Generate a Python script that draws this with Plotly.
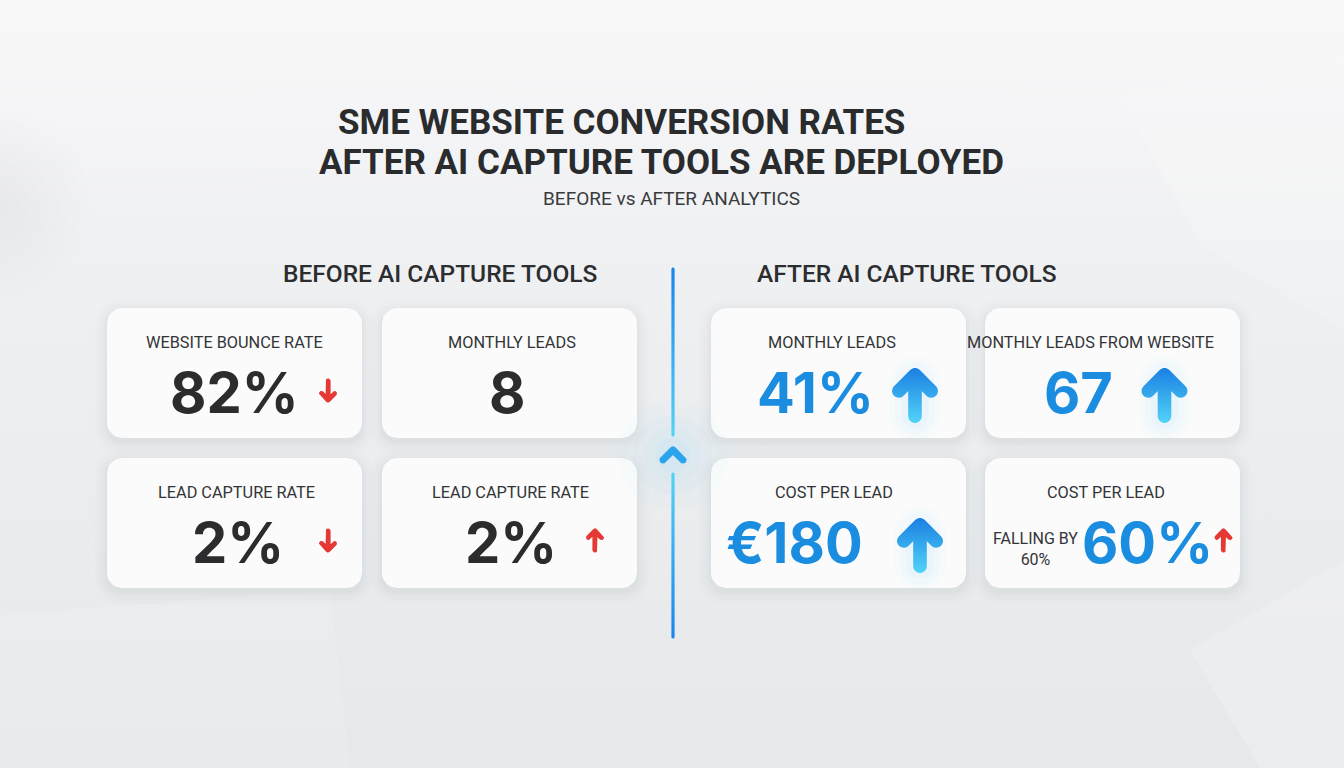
import numpy as np
import plotly.graph_objects as go

W, H = 1344, 768

# ---------------- data ----------------
title_lines = ["SME WEBSITE CONVERSION RATES", "AFTER AI CAPTURE TOOLS ARE DEPLOYED"]
subtitle = "BEFORE vs AFTER ANALYTICS"
section_titles = ["BEFORE AI CAPTURE TOOLS", "AFTER AI CAPTURE TOOLS"]

before_labels = ["WEBSITE BOUNCE RATE", "MONTHLY LEADS", "LEAD CAPTURE RATE", "LEAD CAPTURE RATE"]
before_values = ["82%", "8", "2%", "2%"]
before_trends = ["down", "", "down", "up"]

after_labels = ["MONTHLY LEADS", "MONTHLY LEADS FROM WEBSITE", "COST PER LEAD", "COST PER LEAD"]
after_values = ["41%", "67", "€180", "60%"]
after_trends = ["up", "up", "up", "up"]
after_notes = ["", "", "", "FALLING BY<br>60%"]

# ---------------- layout (positions / styles) ----------------
card_w, card_h = 255, 130
col_x = {"before": [107, 382], "after": [711, 985]}
row_y = [308, 458]
before_label_dx = [0, 2.5, 1.5, 0.5]
before_value_dx = [-0.5, -2.5, 3.5, 1.5]
before_arrow_dx = [93.5, 0, 93.5, 85.5]
after_label_dx = [-6.5, -22, -4.5, -7]
after_value_dx = [-23.5, -34, -44.5, 35]
after_arrow_dx = [76.5, 52, 81.5, 111]
after_arrow_kind = ["big", "big", "big", "small"]
after_note_dx = [0, 0, 0, -77]

DARK = "#2b2c2e"
BLUE = "#1b8de0"
RED = "#e53935"
LABEL_FONT = "Roboto"
VALUE_FONT = "Inter"

fig = go.Figure()


def add_poly(pts_list, color=None, grad=None):
    xs, ys = [], []
    for pts in pts_list:
        xs += [p[0] for p in pts] + [None]
        ys += [p[1] for p in pts] + [None]
    kw = dict(x=xs, y=ys, mode="lines", fill="toself", line=dict(width=0),
              hoverinfo="skip", showlegend=False)
    if grad is not None:
        kw["fillgradient"] = grad
    else:
        kw["fillcolor"] = color
    fig.add_trace(go.Scatter(**kw))


def rrect(x0, y0, x1, y1, r, n=8):
    pts = []
    corners = [(x1 - r, y0 + r, -np.pi / 2, 0), (x1 - r, y1 - r, 0, np.pi / 2),
               (x0 + r, y1 - r, np.pi / 2, np.pi), (x0 + r, y0 + r, np.pi, 1.5 * np.pi)]
    for cx, cy, a0, a1 in corners:
        for t in np.linspace(a0, a1, n):
            pts.append((cx + r * np.cos(t), cy + r * np.sin(t)))
    pts.append(pts[0])
    return pts


def stadium(x1, y1, x2, y2, r, n=10):
    ang = np.arctan2(y2 - y1, x2 - x1)
    pts = []
    for t in np.linspace(ang - np.pi / 2, ang + np.pi / 2, n):
        pts.append((x2 + r * np.cos(t), y2 + r * np.sin(t)))
    for t in np.linspace(ang + np.pi / 2, ang + 3 * np.pi / 2, n):
        pts.append((x1 + r * np.cos(t), y1 + r * np.sin(t)))
    pts.append(pts[0])
    return pts


def circle(cx, cy, r, n=48):
    return [(cx + r * np.cos(t), cy + r * np.sin(t)) for t in np.linspace(0, 2 * np.pi, n)]


def arrow_parts(cx, y_top, y_bot, half_w, r, direction):
    if direction == "up":
        tip = (cx, y_top + r)
        tail = (cx, y_bot - r)
        arm_y = tip[1] + (half_w - r)
    else:
        tip = (cx, y_bot - r)
        tail = (cx, y_top + r)
        arm_y = tip[1] - (half_w - r)
    parts = [stadium(tail[0], tail[1], tip[0], tip[1], r)]
    parts.append(stadium(cx - (half_w - r), arm_y, tip[0], tip[1], r))
    parts.append(stadium(cx + (half_w - r), arm_y, tip[0], tip[1], r))
    return parts


# ---------------- background ----------------
add_poly([[(0, 0), (W, 0), (W, H), (0, H), (0, 0)]],
         grad=dict(type="vertical", start=0, stop=H,
                   colorscale=[[0, "#f8f8f9"], [0.35, "#eff0f2"], [1, "#e6e8ea"]]))
add_poly([[(1120, 95), (1344, 55), (1344, 330), (1200, 245), (1120, 95)]], color="rgba(255,255,255,0.16)")
add_poly([[(0, 615), (330, 590), (350, 768), (0, 768), (0, 615)]], color="rgba(255,255,255,0.12)")
add_poly([[(1190, 650), (1344, 560), (1344, 768), (1260, 768), (1190, 650)]], color="rgba(255,255,255,0.18)")
for r in range(95, 10, -10):
    add_poly([circle(-5, 205, r)], color="rgba(175,180,188,0.012)")

# ---------------- cards ----------------
groups = [("before", before_labels), ("after", after_labels)]
card_boxes = {}
for side, labels in groups:
    for i in range(len(labels)):
        x0 = col_x[side][i % 2]
        y0 = row_y[i // 2]
        card_boxes[(side, i)] = (x0, y0)
        for g, a in [(12, 0.018), (8, 0.022), (4, 0.028), (1.5, 0.035)]:
            add_poly([rrect(x0 - g, y0 - g + 3, x0 + card_w + g, y0 + card_h + g + 4, 15 + g)],
                     color=f"rgba(120,130,145,{a})")
        add_poly([rrect(x0, y0, x0 + card_w, y0 + card_h, 15)], color="#fbfbfb")

# ---------------- divider ----------------
dx = 673
for r, a in [(55, 0.03), (40, 0.04), (28, 0.05), (17, 0.07)]:
    add_poly([circle(dx, 455, r)], color=f"rgba(120,215,250,{a})")
add_poly([stadium(dx, 269, dx, 435, 1.6)],
         grad=dict(type="vertical", start=269, stop=435, colorscale=[[0, "#1a84ee"], [1, "#52d4f6"]]))
add_poly([stadium(dx, 474, dx, 637, 1.6)],
         grad=dict(type="vertical", start=474, stop=637, colorscale=[[0, "#52d4f6"], [1, "#1a84ee"]]))
add_poly([stadium(dx - 10, 460, dx, 450, 3.6), stadium(dx + 10, 460, dx, 450, 3.6)], color="#2ba4ee")

# ---------------- arrows ----------------
def big_arrow(cx, y0):
    top, bot = y0 + 60, y0 + 115
    for r, a in [(26, 0.025), (20, 0.035), (14, 0.045)]:
        add_poly([stadium(cx, top + 14, cx, bot - 8, r)], color=f"rgba(90,195,245,{a})")
    add_poly(arrow_parts(cx, top, bot, 23, 6.8, "up"),
             grad=dict(type="vertical", start=top, stop=bot, colorscale=[[0, "#1a80e2"], [1, "#52d3f8"]]))


def small_arrow(cx, y0, direction):
    top, bot = y0 + 70.5, y0 + 94.5
    add_poly(arrow_parts(cx, top, bot, 9, 2.6, direction), color=RED)


for i, t in enumerate(before_trends):
    x0, y0 = card_boxes[("before", i)]
    if t:
        small_arrow(x0 + card_w / 2 + before_arrow_dx[i], y0, t)

for i, t in enumerate(after_trends):
    x0, y0 = card_boxes[("after", i)]
    if after_arrow_kind[i] == "big":
        big_arrow(x0 + card_w / 2 + after_arrow_dx[i], y0)
    else:
        small_arrow(x0 + card_w / 2 + after_arrow_dx[i], y0, t)

# ---------------- text ----------------
ann = []


def text(x, y, s, size, color=DARK, family=LABEL_FONT, weight=400, xanchor="center"):
    ann.append(dict(x=x, y=y, text=s, showarrow=False, xref="x", yref="y",
                    xanchor=xanchor, yanchor="middle",
                    font=dict(family=family, size=size, color=color, weight=weight)))


text(621, 122, title_lines[0], 35, color="#2a2b2d", weight=700)
text(661, 162, title_lines[1], 35, color="#2a2b2d", weight=700)
text(671, 198, subtitle, 19, color="#3a3b3d")
text(440, 273, section_titles[0], 24.5, color="#2c2d2f", weight=500)
text(907, 273, section_titles[1], 24.5, color="#2c2d2f", weight=500)

for i, lab in enumerate(before_labels):
    x0, y0 = card_boxes[("before", i)]
    cx = x0 + card_w / 2
    text(cx + before_label_dx[i], y0 + 34, lab, 16.3, color="#333437")
    text(cx + before_value_dx[i], y0 + 85, before_values[i], 56, color=DARK, family=VALUE_FONT, weight=700)

for i, lab in enumerate(after_labels):
    x0, y0 = card_boxes[("after", i)]
    cx = x0 + card_w / 2
    text(cx + after_label_dx[i], y0 + 34, lab, 16.3, color="#333437")
    text(cx + after_value_dx[i], y0 + 85, after_values[i], 56, color=BLUE, family=VALUE_FONT, weight=700)
    if after_notes[i]:
        text(cx + after_note_dx[i], y0 + 91, after_notes[i], 16, color="#333437")

fig.update_layout(
    width=W, height=H, margin=dict(l=0, r=0, t=0, b=0),
    paper_bgcolor="#eceef0", plot_bgcolor="rgba(0,0,0,0)",
    xaxis=dict(range=[0, W], visible=False, fixedrange=True),
    yaxis=dict(range=[H, 0], visible=False, fixedrange=True),
    annotations=ann, hovermode=False, showlegend=False,
)

fig.write_html("out.html", include_plotlyjs=True, config={"displayModeBar": False},
               post_script="document.body.style.margin='0';document.body.style.overflow='hidden';")
